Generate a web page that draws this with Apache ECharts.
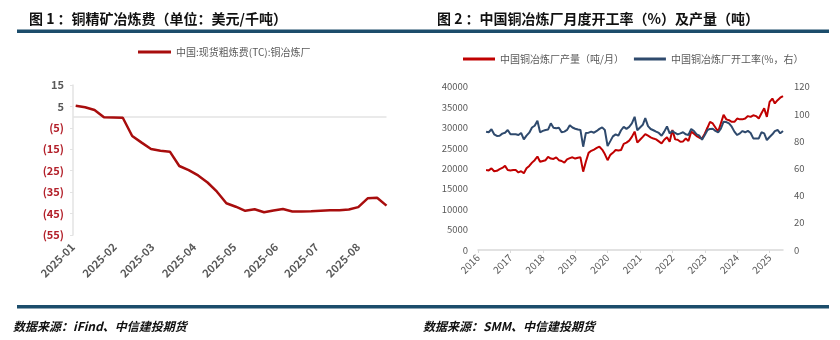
<!DOCTYPE html>
<html><head><meta charset="utf-8">
<script src="https://cdn.jsdelivr.net/npm/echarts@6/dist/echarts.min.js"></script>
<style>html,body{margin:0;padding:0;background:#fff}#c{width:840px;height:340px}</style>
</head><body><div id="c"></div>
<script>
// ---------- Chart 1: TC (weekly) ----------
const tcDates = ['2025-01-03','2025-01-10','2025-01-17','2025-01-24','2025-01-31','2025-02-07','2025-02-14','2025-02-21','2025-02-28','2025-03-07','2025-03-14','2025-03-21','2025-03-28','2025-04-04','2025-04-11','2025-04-18','2025-04-25','2025-05-02','2025-05-09','2025-05-16','2025-05-23','2025-05-30','2025-06-06','2025-06-13','2025-06-20','2025-06-27','2025-07-04','2025-07-11','2025-07-18','2025-07-25','2025-08-01','2025-08-08','2025-08-15','2025-08-22'];
const tcValues = [5.3,4.6,3.3,-0.1,-0.2,-0.3,-8.8,-11.9,-14.9,-15.7,-16.1,-22.8,-24.7,-27.2,-30.5,-34.8,-40.2,-41.8,-43.7,-43.0,-44.4,-43.6,-42.9,-44.0,-44.0,-43.9,-43.7,-43.5,-43.4,-43.1,-42.0,-37.9,-37.6,-41.3];
const tcName = '中国:现货粗炼费(TC):铜冶炼厂';

// ---------- Chart 2: monthly output & utilization ----------
const monthStart = '2016-04';
const outputValues = [19600,19500,20000,19300,19400,19800,20100,20600,19600,19500,19600,19600,19000,19300,18800,20000,20600,21400,22000,22900,21600,21800,22000,22800,22400,22300,22700,22000,21800,21400,22200,22500,22700,22400,22600,22700,19200,21600,23800,24300,24600,25000,25300,24600,23500,22000,23300,23800,24500,
24400,24500,26000,26300,26800,27700,29000,26300,27000,27700,28400,28000,27600,27300,27100,26600,26100,27000,27600,26500,29400,27100,27000,26500,26600,27300,26700,29000,28500,27900,27500,27300,28500,30000,31400,31000,30000,29000,31000,33100,32000,31800,31400,31400,32200,32000,32000,32200,32800,32600,33000,32800,32200,33500,34700,32600,36300,37100,35900,36700,37300,37700];
const utilValues = [86.9,86.5,88.7,85,83.8,84,85.5,86.2,88.2,85,85,85,84.5,86,81.3,84,86.2,90,91.3,95,86.5,87.5,88.2,88.5,93.1,89.9,89.5,89.9,86.5,87,88.2,91.6,90,89.1,88.5,88.2,75.9,86,86.2,87,86.2,87.5,89,90.1,88.2,76.4,80,83.5,85,
84,88,90.5,89,90.5,93,97.9,88,90,92,96.9,91,88.9,88,87,86,84,87,90.8,85.7,87.4,86,85,85.7,86.5,85,84.5,88.9,87.4,85,84,81,84.5,88.2,89,89.1,87.5,86.5,89.1,94.3,94,93,90.6,87,84.5,85.7,87.4,86.5,87.5,86,82,82,82,86.5,85.7,80.8,83,85,87.4,88.2,85.7,87.5];
const outputName = '中国铜冶炼厂产量（吨/月）';
const utilName = '中国铜冶炼厂开工率(%，右）';

function monthList(start, n) {
  let [y, m] = start.split('-').map(Number);
  const out = [];
  for (let i = 0; i < n; i++) {
    out.push(y + '-' + String(m).padStart(2, '0') + '-01');
    m++; if (m > 12) { m = 1; y++; }
  }
  return out;
}
const months = monthList(monthStart, outputValues.length);

const GREY = '#595959';
const AXIS = '#d9d9d9';
const RED = '#c00000';
const BLUE = '#2f4a6d';
const RULE = '#1c4d6b';
const FONT = '"Noto Sans CJK SC","Noto Sans",sans-serif';
const DAY = 86400000;

const chart = echarts.init(document.getElementById('c'), null, {renderer: 'canvas'});
chart.setOption({
  animation: false,
  backgroundColor: '#fff',
  textStyle: {fontFamily: FONT},
  title: [
    {text: '图 1 ：铜精矿冶炼费（单位：美元/千吨）', left: 24, top: 7,
     textStyle: {fontSize: 14, fontWeight: 'bold', color: '#111', fontFamily: FONT}},
    {text: '图 2 ：中国铜冶炼厂月度开工率（%）及产量（吨）', left: 432, top: 7,
     textStyle: {fontSize: 14, fontWeight: 'bold', color: '#111', fontFamily: FONT}},
    {text: '数据来源：iFind、中信建投期货', left: 8, top: 315,
     textStyle: {fontSize: 12, fontWeight: 'bold', fontStyle: 'italic', color: '#111', fontFamily: FONT}},
    {text: '数据来源：SMM、中信建投期货', left: 418, top: 315,
     textStyle: {fontSize: 12, fontWeight: 'bold', fontStyle: 'italic', color: '#111', fontFamily: FONT}}
  ],
  graphic: [
    {type: 'rect', shape: {x: 17, y: 29.5, width: 812, height: 3.5}, style: {fill: RULE}, silent: true},
    {type: 'rect', shape: {x: 17, y: 305, width: 812, height: 3.5}, style: {fill: RULE}, silent: true}
  ],
  legend: [
    {data: [tcName], left: 133, top: 42, icon: 'rect', itemWidth: 33, itemHeight: 3, itemGap: 20,
     textStyle: {fontSize: 10, color: GREY}},
    {data: [outputName, utilName], left: 458, top: 49, icon: 'rect', itemWidth: 32, itemHeight: 3, itemGap: 10,
     textStyle: {fontSize: 10, color: GREY}}
  ],
  grid: [
    {left: 73, top: 85, width: 313.5, height: 150},
    {left: 478, top: 86.7, width: 305, height: 163.3}
  ],
  xAxis: [
    {type: 'time', gridIndex: 0, min: '2025-01-01', max: '2025-08-22', position: 'bottom',
     minInterval: 28 * DAY, maxInterval: 31 * DAY,
     axisLine: {show: false, onZero: false}, axisTick: {show: false}, splitLine: {show: false},
     axisLabel: {rotate: 45, margin: 10, fontSize: 11, fontWeight: 'bold', color: GREY,
                 formatter: '{yyyy}-{MM}', showMaxLabel: false, hideOverlap: false}},
    {type: 'time', gridIndex: 1, min: '2016-01-01', max: '2025-06-01',
     minInterval: 365 * DAY, maxInterval: 366 * DAY,
     axisLine: {show: true, lineStyle: {color: AXIS, width: 1.5}},
     axisTick: {show: true, length: 3, lineStyle: {color: AXIS}},
     splitLine: {show: false},
     axisLabel: {rotate: 45, margin: 6, fontSize: 10, color: GREY, formatter: '{yyyy}', showMaxLabel: false}}
  ],
  yAxis: [
    {type: 'value', gridIndex: 0, min: -55, max: 15, interval: 10,
     axisLine: {show: true, lineStyle: {color: '#e3e3e3', width: 1.5}},
     axisTick: {show: true, length: 3, lineStyle: {color: '#e3e3e3'}},
     splitLine: {show: false},
     axisLabel: {margin: 9, fontSize: 11, fontWeight: 'bold',
       formatter: v => v < 0 ? '{n|(' + Math.abs(v) + ')}' : '{p|' + v + '}',
       rich: {n: {color: '#b3202a', fontSize: 11, fontWeight: 'bold'}, p: {color: GREY, fontSize: 11, fontWeight: 'bold'}}}},
    {type: 'value', gridIndex: 1, min: 0, max: 40000, interval: 5000, position: 'left',
     axisLine: {show: false}, axisTick: {show: false}, splitLine: {show: false},
     axisLabel: {margin: 10, fontSize: 9.5, color: GREY, formatter: v => String(v)}},
    {type: 'value', gridIndex: 1, min: 0, max: 120, interval: 20, position: 'right',
     axisLine: {show: false}, axisTick: {show: false}, splitLine: {show: false},
     axisLabel: {margin: 11, fontSize: 9.5, color: GREY, formatter: v => String(v)}}
  ],
  series: [
    {name: tcName, type: 'line', xAxisIndex: 0, yAxisIndex: 0, showSymbol: false, symbol: 'none',
     lineStyle: {color: '#a80d0d', width: 2.5}, itemStyle: {color: '#a80d0d'},
     markLine: {silent: true, symbol: 'none', label: {show: false}, z: 1,
                lineStyle: {color: '#e3e3e3', width: 1.5, type: 'solid'}, data: [{yAxis: 0}]},
     z: 3,
     data: tcDates.map((d, i) => [d, tcValues[i]])},
    {name: outputName, type: 'line', xAxisIndex: 1, yAxisIndex: 1, showSymbol: false, symbol: 'none',
     lineStyle: {color: RED, width: 2}, itemStyle: {color: RED},
     data: months.map((d, i) => [d, outputValues[i]])},
    {name: utilName, type: 'line', xAxisIndex: 1, yAxisIndex: 2, showSymbol: false, symbol: 'none',
     lineStyle: {color: BLUE, width: 2}, itemStyle: {color: BLUE},
     data: months.map((d, i) => [d, utilValues[i]])}
  ]
});
</script>
</body></html>
